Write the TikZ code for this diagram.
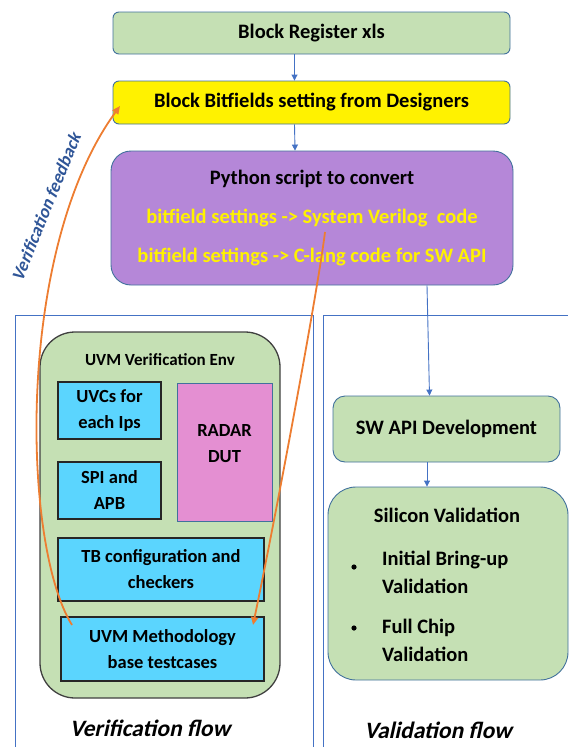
\documentclass[tikz,border=0pt]{standalone}
\usepackage{fontspec}
\setmainfont{Carlito}
\newfontfamily\slantfont{Carlito Bold}[FakeSlant=0.22]
\usetikzlibrary{arrows.meta}

\definecolor{boxgreen}{HTML}{C5E0B4}
\definecolor{edgeblue}{HTML}{41719C}
\definecolor{flowblue}{HTML}{4472C4}
\definecolor{scriptpurple}{HTML}{B587D8}
\definecolor{ipcyan}{HTML}{5BD5FE}
\definecolor{dutpink}{HTML}{E48FD2}
\definecolor{feedorange}{HTML}{ED7D31}
\definecolor{labelblue}{HTML}{2F5597}

\begin{document}
\begin{tikzpicture}[x=1pt,y=-1pt,
  bigfont/.style={font=\fontsize{20.5}{24}\selectfont\bfseries},
  midfont/.style={font=\fontsize{18.5}{26}\selectfont\bfseries},
  flowbox/.style={draw=edgeblue, line width=0.9pt, fill=boxgreen, rounded corners=6pt,
    inner sep=0pt, align=center, bigfont},
  ipbox/.style={draw=black!85, line width=1.2pt, fill=ipcyan, inner sep=0pt,
    align=center, midfont},
  flowarrow/.style={draw=flowblue, line width=0.9pt, -{Triangle[length=6pt,width=6pt]}},
  feedarrow/.style={draw=feedorange, line width=1.8pt, -{Triangle[length=8pt,width=7pt]}},
  frame/.style={draw=flowblue, line width=0.8pt},
  flowtitle/.style={font=\fontsize{23.5}{26}\selectfont\slantfont}
]

\useasboundingbox (0,0) rectangle (568,747);

% Top flow
\node[flowbox, minimum width=397pt, minimum height=42pt] (reg) at (311.5,33)
  {Block Register xls};

\node[flowbox, fill=yellow, minimum width=397pt, minimum height=43pt] (bits) at (311.5,102.5)
  {Block Bitfields setting from Designers};

\node[flowbox, fill=scriptpurple, rounded corners=20pt,
  minimum width=402pt, minimum height=134pt] (script) at (312,218)
  {Python script to convert\\[15pt]
   \textcolor{yellow}{bitfield settings -> System Verilog~~code}\\[15pt]
   \textcolor{yellow}{bitfield settings -> C-lang code for SW API}};

\draw[flowarrow] ([xshift=-17pt]reg.south) -- ([xshift=-17pt]bits.north);
\draw[flowarrow] ([xshift=-17pt]bits.south) -- ([xshift=-17pt]script.north);

% Frames
\draw[frame] (15,750) -- (15,315) -- (313,315) -- (313,750);
\draw[frame] (323,750) -- (323,315) -- (568,315);

% Verification flow
\node[draw=black!75, line width=1.3pt, fill=boxgreen, rounded corners=35pt,
  minimum width=240pt, minimum height=366pt] (env) at (160,515) {};
\node[font=\fontsize{17}{20}\selectfont\bfseries] (envtitle) at (160,360)
  {UVM Verification Env};

\node[ipbox, minimum width=103pt, minimum height=57pt] (uvc) at (109.5,410.5)
  {UVCs for\\each Ips};
\node[ipbox, minimum width=103pt, minimum height=57pt] (spi) at (109.5,490.5)
  {SPI and\\APB};
\node[draw=edgeblue, line width=1pt, fill=dutpink,
  minimum width=95pt, minimum height=138pt] (dut) at (224.5,452) {};
\node[midfont, align=center] (dutlabel) at ([yshift=8pt]dut.center) {RADAR\\DUT};
\node[ipbox, minimum width=206pt, minimum height=63pt] (tb) at (161,569.5)
  {TB configuration and\\checkers};
\node[ipbox, minimum width=203pt, minimum height=64pt] (meth) at (162.5,649)
  {UVM Methodology\\base testcases};

\node[flowtitle] (verflow) at (150,728) {Verification flow};

% Validation flow
\node[flowbox, rounded corners=12pt, minimum width=227pt, minimum height=66pt] (swapi)
  at (446.5,429) {SW API Development};
\node[flowbox, rounded corners=28pt, minimum width=240pt, minimum height=193pt] (silicon)
  at (448,583.5) {};
\node[bigfont] (siltitle) at (447,515) {Silicon Validation};
\fill (354,567) circle (2.6pt);
\node[anchor=west, align=left, font=\fontsize{20.5}{28}\selectfont\bfseries, inner sep=0pt]
  (bringup) at (382,572) {Initial Bring-up\\Validation};
\fill (354,628) circle (2.6pt);
\node[anchor=west, align=left, font=\fontsize{20.5}{28}\selectfont\bfseries, inner sep=0pt]
  (fullchip) at (382,640.5) {Full Chip\\Validation};

\node[flowtitle] (valflow) at (438,730) {Validation flow};

\draw[flowarrow] ([xshift=115pt]script.south) -- ([xshift=-17pt]swapi.north);
\draw[flowarrow] ([xshift=-19.5pt]swapi.south) -- ([xshift=-21pt]silicon.north);

% Verification feedback
\coordinate (fbstart) at (72,625);
\coordinate (fbend) at (120,106);
\coordinate (svstart) at (325,232);
\coordinate (svend) at (253,625);

\draw[feedarrow] (fbstart) .. controls (22,545) and (15,250) .. (fbend);
\draw[feedarrow] (svstart) .. controls (318,290) and (275,520) .. (svend);

\node[rotate=68, text=labelblue, font=\fontsize{18}{20}\selectfont\slantfont]
  (fblabel) at (46,207) {Verification feedback};

\end{tikzpicture}
\end{document}
